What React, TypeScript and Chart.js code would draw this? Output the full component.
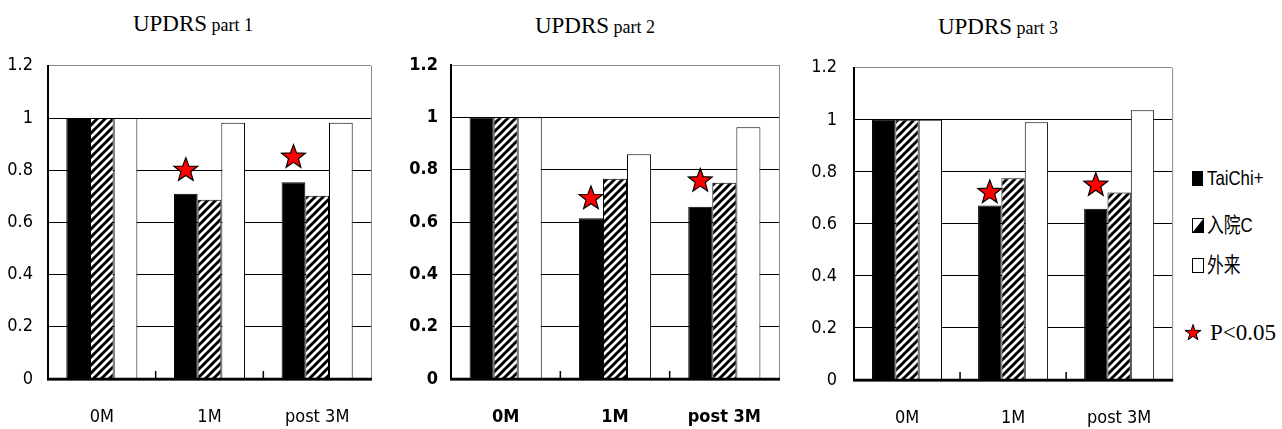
import React, { useEffect, useRef } from 'react';
import { Chart, registerables } from 'chart.js';

Chart.register(...registerables);

// ---------- data ----------
const categories = ['0M', '1M', 'post 3M'];
const seriesNames = ['TaiChi+', '入院C', '外来'];

const part1TaiChi = [1, 0.71, 0.754];
const part1Inpatient = [1, 0.687, 0.702];
const part1Outpatient = [1, 0.982, 0.982];
const part1Stars = [null, 0.8, 0.85];

const part2TaiChi = [1, 0.614, 0.658];
const part2Inpatient = [1, 0.765, 0.75];
const part2Outpatient = [1, 0.859, 0.962];
const part2Stars = [null, 0.69, 0.757];

const part3TaiChi = [1, 0.671, 0.658];
const part3Inpatient = [1, 0.775, 0.721];
const part3Outpatient = [1, 0.991, 1.037];
const part3Stars = [null, 0.721, 0.749];

const yMin = 0;
const yMax = 1.2;
const yStep = 0.2;
const starLabel = 'P<0.05';

// ---------- styling ----------
const CANVAS_FONT = "'DejaVu Sans Condensed', 'Liberation Sans Narrow', 'Arial Narrow', sans-serif";
const HTML_FONT = "'Liberation Sans', Arial, 'Noto Sans CJK SC', sans-serif";
const SERIF = "'Liberation Serif', 'Times New Roman', serif";

function makeHatch(): CanvasPattern | string {
  const c = document.createElement('canvas');
  c.width = 8;
  c.height = 8;
  const g = c.getContext('2d');
  if (!g) return '#888';
  g.fillStyle = '#fff';
  g.fillRect(0, 0, 8, 8);
  g.strokeStyle = '#000';
  g.lineWidth = 3;
  for (const k of [-8, 0, 8]) {
    g.beginPath();
    g.moveTo(k - 1, 9);
    g.lineTo(k + 9, -1);
    g.stroke();
  }
  const p = g.createPattern(c, 'repeat');
  return p || '#888';
}

function drawStar(ctx: CanvasRenderingContext2D, cx: number, cy: number, R: number, r: number) {
  ctx.beginPath();
  for (let i = 0; i < 10; i++) {
    const rad = i % 2 === 0 ? R : r;
    const a = -Math.PI / 2 + (i * Math.PI) / 5;
    const px = cx + rad * Math.cos(a);
    const py = cy + rad * Math.sin(a);
    if (i === 0) ctx.moveTo(px, py);
    else ctx.lineTo(px, py);
  }
  ctx.closePath();
  ctx.fillStyle = '#ff0000';
  ctx.fill();
  ctx.strokeStyle = '#000';
  ctx.lineWidth = 1.2;
  ctx.stroke();
}

function decorPlugin(stars: (number | null)[]) {
  return {
    id: 'decor',
    afterDatasetsDraw(chart: any) {
      const { ctx, chartArea } = chart;
      const x = chart.scales.x;
      const y = chart.scales.y;
      ctx.save();
      // right edge of plot box
      ctx.strokeStyle = '#8a8a8a';
      ctx.lineWidth = 1;
      ctx.beginPath();
      ctx.moveTo(chartArea.right + 0.5, chartArea.top);
      ctx.lineTo(chartArea.right + 0.5, chartArea.bottom);
      ctx.stroke();
      // bottom axis line redrawn over bars
      ctx.strokeStyle = '#000';
      ctx.lineWidth = 2.5;
      ctx.beginPath();
      ctx.moveTo(chartArea.left - 1, chartArea.bottom);
      ctx.lineTo(chartArea.right + 1, chartArea.bottom);
      ctx.stroke();
      // inward tick marks between categories
      ctx.lineWidth = 1.5;
      for (let i = 1; i < categories.length; i++) {
        const xb = (x.getPixelForValue(i - 1) + x.getPixelForValue(i)) / 2;
        ctx.beginPath();
        ctx.moveTo(xb, chartArea.bottom);
        ctx.lineTo(xb, chartArea.bottom - 8);
        ctx.stroke();
      }
      // significance stars above the TaiChi+ bars
      const meta = chart.getDatasetMeta(0);
      stars.forEach((v, i) => {
        if (v === null || v === undefined) return;
        const bar = meta.data[i];
        if (!bar) return;
        drawStar(ctx, bar.x, y.getPixelForValue(v), 12.5, 5.2);
      });
      ctx.restore();
    },
  };
}

type PanelProps = {
  taichi: number[];
  inpatient: number[];
  outpatient: number[];
  stars: (number | null)[];
  width: number;
  height: number;
  yWidth: number;
  xHeight: number;
  padTop: number;
  padRight: number;
  yPad: number;
  bold: boolean;
};

function Panel(p: PanelProps) {
  const ref = useRef<HTMLCanvasElement>(null);
  useEffect(() => {
    if (!ref.current) return;
    const hatch = makeHatch();
    const font = { family: CANVAS_FONT, size: 18, weight: p.bold ? 'bold' : 'normal' } as any;
    const chart = new Chart(ref.current, {
      type: 'bar',
      data: {
        labels: categories,
        datasets: [
          { label: seriesNames[0], data: p.taichi, backgroundColor: '#000', borderColor: '#000', borderWidth: 1 },
          { label: seriesNames[1], data: p.inpatient, backgroundColor: hatch as any, borderColor: '#000', borderWidth: 1 },
          { label: seriesNames[2], data: p.outpatient, backgroundColor: '#fff', borderColor: '#000', borderWidth: 1 },
        ],
      },
      options: {
        animation: false,
        responsive: false,
        maintainAspectRatio: false,
        datasets: { bar: { categoryPercentage: 0.66, barPercentage: 1.0 } },
        layout: { padding: { top: p.padTop, right: p.padRight, left: 0, bottom: 0 } },
        plugins: { legend: { display: false }, tooltip: { enabled: false }, title: { display: false } },
        scales: {
          x: {
            grid: { display: false, drawTicks: false },
            border: { display: true, color: '#000', width: 2.5 },
            ticks: { color: '#000', font, padding: 28 },
            afterFit: (s: any) => { s.height = p.xHeight; },
          },
          y: {
            min: yMin,
            max: yMax,
            ticks: {
              stepSize: yStep,
              color: '#000',
              font,
              padding: p.yPad,
              callback: (v: any) => Number(v).toFixed(1).replace(/\.0$/, ''),
            },
            grid: {
              color: (c: any) => (c.tick && c.tick.value > 1.1 ? '#8a8a8a' : '#000'),
              lineWidth: 1,
              drawTicks: false,
            },
            border: { display: true, color: '#000', width: 2 },
            afterFit: (s: any) => { s.width = p.yWidth; },
          },
        },
      } as any,
      plugins: [decorPlugin(p.stars)],
    });
    return () => chart.destroy();
  }, []);
  return <canvas ref={ref} width={p.width} height={p.height} style={{ display: 'block', width: p.width, height: p.height }} />;
}

function Title({ cx, top, part }: { cx: number; top: number; part: string }) {
  return (
    <div
      style={{
        position: 'absolute',
        left: cx - 120,
        top,
        width: 240,
        textAlign: 'center',
        fontFamily: SERIF,
        color: '#000',
        lineHeight: '23px',
        whiteSpace: 'nowrap',
      }}
    >
      <span style={{ fontSize: 23 }}>UPDRS</span>
      <span style={{ fontSize: 18 }}> {part}</span>
    </div>
  );
}

function LegendText({ left, cy, text, serif }: { left: number; cy: number; text: string; serif?: boolean }) {
  return (
    <div
      style={{
        position: 'absolute',
        left,
        top: cy - 12,
        height: 24,
        lineHeight: '24px',
        fontFamily: serif ? SERIF : HTML_FONT,
        fontSize: serif ? 23 : 21,
        color: '#000',
        whiteSpace: 'nowrap',
        transform: serif ? undefined : 'scaleX(0.8)',
        transformOrigin: 'left center',
      }}
    >
      {text}
    </div>
  );
}

export default function App() {
  return (
    <div style={{ position: 'absolute', left: 0, top: 0, width: 1282, height: 429, overflow: 'hidden', background: '#fff' }}>
      <Title cx={193} top={12} part="part 1" />
      <Title cx={595} top={14} part="part 2" />
      <Title cx={998} top={15} part="part 3" />

      <div style={{ position: 'absolute', left: 0, top: 40 }}>
        <Panel taichi={part1TaiChi} inpatient={part1Inpatient} outpatient={part1Outpatient} stars={part1Stars}
          width={410} height={389} yWidth={48} xHeight={50} padTop={25} padRight={39} yPad={15} bold={false} />
      </div>
      <div style={{ position: 'absolute', left: 410, top: 40 }}>
        <Panel taichi={part2TaiChi} inpatient={part2Inpatient} outpatient={part2Outpatient} stars={part2Stars}
          width={400} height={389} yWidth={41} xHeight={50} padTop={25} padRight={31} yPad={13} bold={true} />
      </div>
      <div style={{ position: 'absolute', left: 810, top: 40 }}>
        <Panel taichi={part3TaiChi} inpatient={part3Inpatient} outpatient={part3Outpatient} stars={part3Stars}
          width={370} height={389} yWidth={44} xHeight={49} padTop={21} padRight={4} yPad={17} bold={false} />
      </div>

      {/* legend */}
      <svg style={{ position: 'absolute', left: 1188, top: 165, overflow: 'visible' }} width={20} height={185}>
        <rect x={4} y={6} width={11} height={15} fill="#000" />
        <rect x={4.5} y={53.5} width={11} height={14} fill="#fff" stroke="#000" strokeWidth={1} />
        <polygon points="15.5,53.5 15.5,67.5 4.5,67.5" fill="#000" />
        <rect x={4.5} y={93.5} width={11} height={14} fill="#fff" stroke="#000" strokeWidth={1} />
        <polygon
          points="5,159.5 6.9,165.4 13.1,165.4 8.1,169 10,174.9 5,171.3 0,174.9 1.9,169 -3.1,165.4 3.1,165.4"
          fill="#ff0000"
          stroke="#000"
          strokeWidth={1}
        />
      </svg>
      <LegendText left={1207} cy={178} text={seriesNames[0]} />
      <LegendText left={1207} cy={225} text={seriesNames[1]} />
      <LegendText left={1207} cy={265} text={seriesNames[2]} />
      <LegendText left={1210} cy={333} text={starLabel} serif />
    </div>
  );
}
